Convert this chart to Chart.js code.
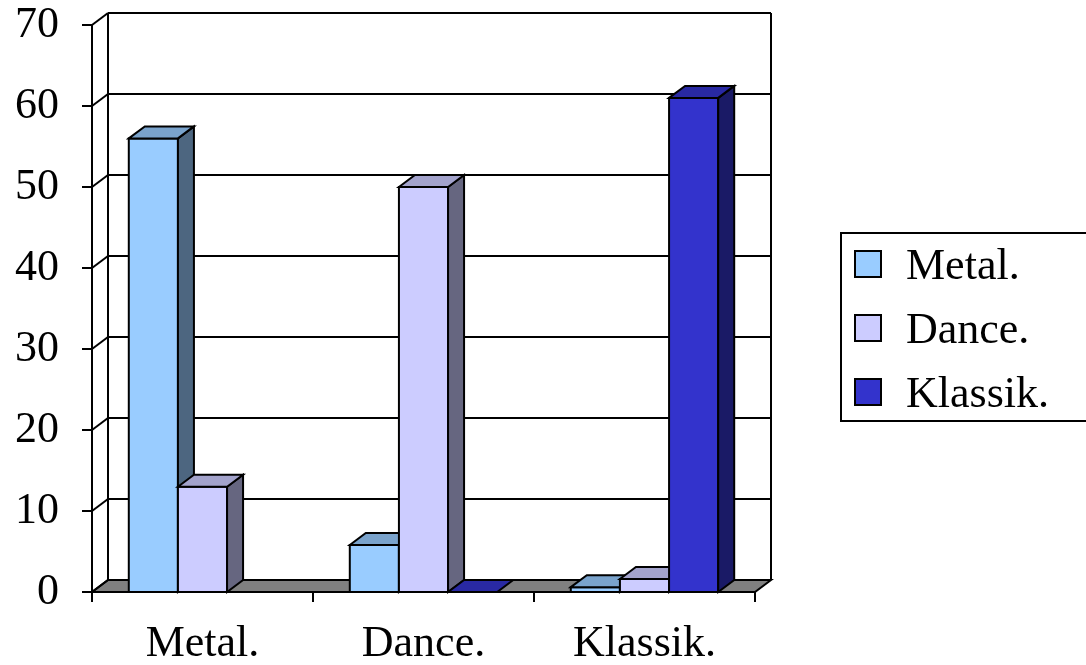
<!DOCTYPE html>
<html>
<head>
<meta charset="utf-8">
<script src="https://cdn.jsdelivr.net/npm/chart.js@4"></script>
<style>
  html, body { margin: 0; padding: 0; background: #fff; }
  #wrap { width: 1086px; height: 665px; position: relative; }
</style>
</head>
<body>
<div id="wrap"><canvas id="chart"></canvas></div>
<script>
// Werte je Kategorie
const categories = ['Metal.', 'Dance.', 'Klassik.'];
const metalValues = [56, 5.8, 0.6];
const danceValues = [13, 50, 1.6];
const klassikValues = [null, 0, 61];

const seriesNames = ['Metal.', 'Dance.', 'Klassik.'];
const frontColors = ['#99CCFF', '#CCCCFF', '#3333CC'];
const sideColors = ['#4D6680', '#666680', '#1A1A66'];
const topColors = ['#7AA3CC', '#A3A3CC', '#2929A3'];

// Tiefe der 3D-Darstellung in Pixeln
const DX = 16, DY = -12;
const LW = 2;
const FONT = '"Liberation Serif", "Times New Roman", serif';

function poly(ctx, pts, fill) {
    ctx.beginPath();
    ctx.moveTo(pts[0][0], pts[0][1]);
    for (let i = 1; i < pts.length; i++) ctx.lineTo(pts[i][0], pts[i][1]);
    ctx.closePath();
    if (fill) { ctx.fillStyle = fill; ctx.fill(); }
    ctx.stroke();
}

function line(ctx, x1, y1, x2, y2) {
    ctx.beginPath();
    ctx.moveTo(x1, y1);
    ctx.lineTo(x2, y2);
    ctx.stroke();
}

// Rückwand, Boden und Achsen
const wallPlugin = {
    id: 'wall',
    beforeDatasetsDraw(chart) {
        const { ctx, chartArea: a, scales: { x, y } } = chart;
        ctx.save();
        ctx.strokeStyle = '#000';
        ctx.lineWidth = LW;

        poly(ctx, [[a.left, a.bottom], [a.right, a.bottom], [a.right + DX, a.bottom + DY], [a.left + DX, a.bottom + DY]], '#808080');

        y.ticks.forEach(t => {
            const py = y.getPixelForValue(t.value);
            if (t.value !== 0) line(ctx, a.left + DX, py + DY, a.right + DX, py + DY);
            line(ctx, a.left, py, a.left + DX, py + DY);
            line(ctx, a.left - 10, py, a.left, py);
        });

        line(ctx, a.left + DX, a.top + DY, a.left + DX, a.bottom + DY);
        line(ctx, a.right + DX, a.top + DY, a.right + DX, a.bottom + DY);
        line(ctx, a.left, a.top, a.left, a.bottom + 10);

        for (let i = 0; i <= categories.length; i++) {
            const px = x.getPixelForValue(i - 0.5);
            line(ctx, px, a.bottom, px, a.bottom + 10);
        }
        ctx.restore();
    },
    beforeDatasetDraw() {
        return false;
    },
    afterDatasetsDraw(chart) {
        const { ctx } = chart;
        ctx.save();
        ctx.strokeStyle = '#000';
        ctx.lineWidth = LW;
        chart.data.datasets.forEach((ds, di) => {
            const meta = chart.getDatasetMeta(di);
            meta.data.forEach((bar, i) => {
                if (ds.data[i] === null) return;
                const p = bar.getProps(['x', 'y', 'base', 'width'], true);
                const L = p.x - p.width / 2, R = p.x + p.width / 2;
                const top = p.y, base = p.base;
                if (base - top > 0.5) {
                    poly(ctx, [[L, top], [R, top], [R, base], [L, base]], frontColors[di]);
                    poly(ctx, [[R, top], [R + DX, top + DY], [R + DX, base + DY], [R, base]], sideColors[di]);
                }
                poly(ctx, [[L, top], [L + DX, top + DY], [R + DX, top + DY], [R, top]], topColors[di]);
            });
        });
        ctx.restore();
    },
    afterDraw(chart) {
        const { ctx } = chart;
        ctx.save();
        ctx.strokeStyle = '#000';
        ctx.lineWidth = LW;
        ctx.strokeRect(841, 233, 300, 188);
        ctx.font = '44px ' + FONT;
        ctx.textBaseline = 'middle';
        const rows = [264, 328, 392];
        seriesNames.forEach((name, i) => {
            ctx.fillStyle = frontColors[i];
            ctx.fillRect(855, rows[i] - 13, 26, 26);
            ctx.strokeRect(855, rows[i] - 13, 26, 26);
            ctx.fillStyle = '#000';
            ctx.fillText(name, 906, rows[i] + 3);
        });
        ctx.restore();
    }
};

new Chart(document.getElementById('chart'), {
    type: 'bar',
    data: {
        labels: categories,
        datasets: [
            { label: seriesNames[0], data: metalValues, backgroundColor: frontColors[0] },
            { label: seriesNames[1], data: danceValues, backgroundColor: frontColors[1] },
            { label: seriesNames[2], data: klassikValues, backgroundColor: frontColors[2] }
        ]
    },
    options: {
        responsive: true,
        maintainAspectRatio: false,
        animation: false,
        layout: { padding: { top: 25, right: 331, left: 0, bottom: 0 } },
        datasets: { bar: { categoryPercentage: 0.667, barPercentage: 1 } },
        plugins: { legend: { display: false }, tooltip: { enabled: false } },
        scales: {
            x: {
                grid: { display: false, drawTicks: false },
                border: { display: false },
                ticks: { color: '#000', font: { family: FONT, size: 44 }, padding: 26, maxRotation: 0 },
                afterFit(scale) {
                    scale.height = 73;
                    scale.paddingLeft = 0;
                    scale.paddingRight = 0;
                }
            },
            y: {
                min: 0,
                max: 70,
                grid: { display: false, drawTicks: false },
                border: { display: false },
                ticks: { stepSize: 10, color: '#000', font: { family: FONT, size: 44 }, padding: 33 },
                afterFit(scale) {
                    scale.width = 92;
                    scale.paddingTop = 0;
                    scale.paddingBottom = 0;
                }
            }
        }
    },
    plugins: [wallPlugin]
});
</script>
</body>
</html>
